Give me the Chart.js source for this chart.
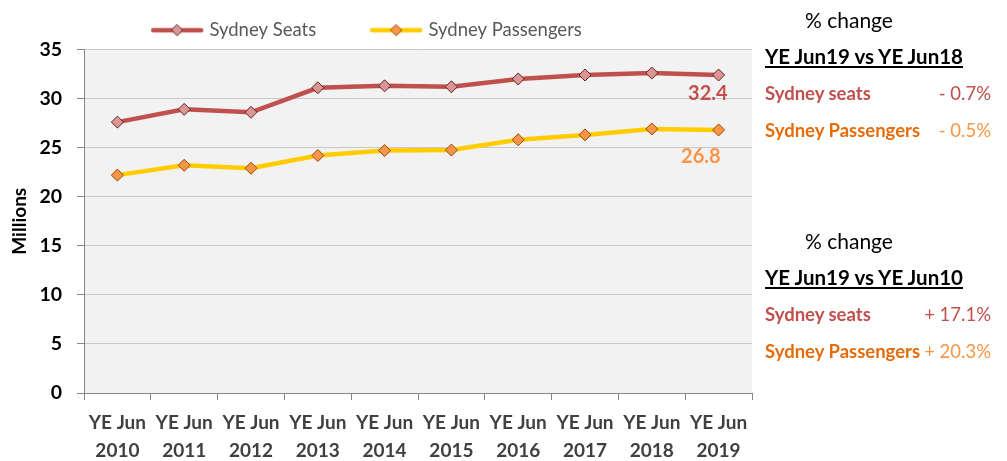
<!DOCTYPE html>
<html>
<head>
<meta charset="utf-8">
<script src="https://cdn.jsdelivr.net/npm/chart.js@4.4.1/dist/chart.umd.min.js"></script>
<style>
  body { margin: 0; background: #fff; font-family: Lato, "Open Sans", sans-serif; }
  #wrap { position: absolute; left: 0; top: 0; width: 1007px; height: 461px; }
  .side { position: absolute; white-space: nowrap; line-height: 26px; height: 26px; }
  .pc { font-size: 21px; color: #000; }
  .hd { font-size: 20.5px; font-weight: bold; color: #000; text-decoration: underline; }
  .row { font-size: 18.5px; }
  .row b { position: absolute; left: 0; }
  .row span { position: absolute; right: 0; }
</style>
</head>
<body>
<div id="wrap"><canvas id="c" width="1007" height="461"></canvas></div>
<div id="side"></div>
<script>
// data
const years = ['2010', '2011', '2012', '2013', '2014', '2015', '2016', '2017', '2018', '2019'];
const seats = [27.6, 28.9, 28.6, 31.1, 31.3, 31.2, 32.0, 32.4, 32.6, 32.4];
const passengers = [22.2, 23.2, 22.9, 24.2, 24.7, 24.75, 25.8, 26.3, 26.9, 26.8];
const yTicks = [0, 5, 10, 15, 20, 25, 30, 35];

const changeHeads = ['YE Jun19 vs YE Jun18', 'YE Jun19 vs YE Jun10'];
const seatsChange = ['- 0.7%', '+ 17.1%'];
const paxChange = ['- 0.5%', '+ 20.3%'];

const FONT = 'Lato, "Open Sans", sans-serif';
const SEATS_COL = '#C0504D';
const PAX_COL = '#FFCC00';

// side panel text
const side = document.getElementById('side');
[0, 1].forEach(function(i) {
  const c = i === 0 ? 20 : 241;   // centre of the "% change" line
  side.insertAdjacentHTML('beforeend',
    '<div class="side pc" style="left:805px;top:' + (c - 13) + 'px">% change</div>' +
    '<div class="side hd" style="left:765px;top:' + (c + 23) + 'px">' + changeHeads[i] + '</div>' +
    '<div class="side row" style="left:765px;width:226px;top:' + (c + 60) + 'px">' +
      '<b style="color:#C0504D">Sydney seats</b><span style="color:#C0504D">' + seatsChange[i] + '</span></div>' +
    '<div class="side row" style="left:765px;width:226px;top:' + (c + 97) + 'px">' +
      '<b style="color:#E46C0A">Sydney Passengers</b><span style="color:#F79646">' + paxChange[i] + '</span></div>');
});

// legend symbol: short line with a diamond, padded on the left so items sit apart
const SYM_BOX = 86;
function legendSymbol(lineCol, fill, stroke) {
  const cv = document.createElement('canvas');
  cv.width = SYM_BOX + 12; cv.height = 16;
  const g = cv.getContext('2d');
  const x0 = cv.width - 55, x1 = cv.width - 3, mid = (x0 + x1) / 2;
  g.strokeStyle = lineCol; g.lineWidth = 4.5; g.lineCap = 'round';
  g.beginPath(); g.moveTo(x0 + 2, 8); g.lineTo(x1 - 2, 8); g.stroke();
  g.fillStyle = fill; g.strokeStyle = stroke; g.lineWidth = 1;
  g.beginPath(); g.moveTo(mid, 2.5); g.lineTo(mid + 5.5, 8); g.lineTo(mid, 13.5); g.lineTo(mid - 5.5, 8); g.closePath();
  g.fill(); g.stroke();
  return cv;
}
const legendImgs = [
  legendSymbol(SEATS_COL, '#D99694', '#632523'),
  legendSymbol(PAX_COL, '#F79646', '#984807')
];

const plotBg = {
  id: 'plotBg',
  beforeDraw(chart) {
    const a = chart.chartArea, ctx = chart.ctx;
    ctx.save(); ctx.fillStyle = '#F2F2F2';
    ctx.fillRect(a.left, a.top, a.right - a.left, a.bottom - a.top);
    ctx.restore();
  }
};

const endLabels = {
  id: 'endLabels',
  afterDatasetsDraw(chart) {
    const ctx = chart.ctx;
    const cols = [SEATS_COL, '#F79646'];
    const offs = [[9, 19], [2, 27]];
    ctx.save();
    ctx.font = 'bold 20px ' + FONT;
    ctx.textAlign = 'right';
    ctx.textBaseline = 'middle';
    chart.data.datasets.forEach(function(ds, i) {
      const pts = chart.getDatasetMeta(i).data;
      const p = pts[pts.length - 1];
      ctx.fillStyle = cols[i];
      ctx.fillText(ds.data[ds.data.length - 1].toFixed(1), p.x + offs[i][0], p.y + offs[i][1]);
    });
    ctx.restore();
  }
};

const legendShift = {
  id: 'legendShift',
  afterLayout(chart) {
    if (chart.legend) { chart.legend.left -= 30; chart.legend.right -= 30; }
  }
};

new Chart(document.getElementById('c'), {
  type: 'line',
  data: {
    labels: years.map(function(y) { return ['YE Jun', y]; }),
    datasets: [
      {
        label: 'Sydney Seats',
        data: seats,
        borderColor: SEATS_COL,
        borderWidth: 4.5,
        pointStyle: 'rectRot',
        pointRadius: 6,
        pointBackgroundColor: '#D99694',
        pointBorderColor: '#632523',
        pointBorderWidth: 1,
        tension: 0
      },
      {
        label: 'Sydney Passengers',
        data: passengers,
        borderColor: PAX_COL,
        borderWidth: 4.5,
        pointStyle: 'rectRot',
        pointRadius: 6,
        pointBackgroundColor: '#F79646',
        pointBorderColor: '#984807',
        pointBorderWidth: 1,
        tension: 0
      }
    ]
  },
  options: {
    responsive: false,
    animation: false,
    layout: { padding: { left: 4, right: 255, top: 4, bottom: 0 } },
    plugins: {
      tooltip: { enabled: false },
      legend: {
        position: 'top',
        labels: {
          usePointStyle: true,
          pointStyleWidth: SYM_BOX,
          padding: 17,
          color: '#595959',
          font: { family: FONT, size: 18.5 },
          generateLabels(chart) {
            const items = Chart.defaults.plugins.legend.labels.generateLabels(chart);
            items.forEach(function(it, i) { it.pointStyle = legendImgs[i]; });
            return items;
          }
        }
      }
    },
    scales: {
      x: {
        offset: true,
        afterFit(axis) { axis.height = 68; },
        grid: { offset: true, drawOnChartArea: false, color: '#868686', tickLength: 7 },
        border: { color: '#868686' },
        ticks: {
          color: '#404040', autoSkip: false, maxRotation: 0, padding: 8,
          font: { family: FONT, size: 19, weight: 'bold', lineHeight: 1.52 }
        }
      },
      y: {
        min: 0,
        max: 35,
        afterBuildTicks(axis) { axis.ticks = yTicks.map(function(v) { return { value: v }; }); },
        afterFit(axis) { axis.width = 80; },
        grid: { color: '#C8C8C8', borderDash: [5, 4], tickBorderDash: [], tickColor: '#868686', tickLength: 7 },
        border: { color: '#868686' },
        ticks: { color: '#000', font: { family: FONT, size: 19.5, weight: 'bold' }, padding: 15 },
        title: { display: true, text: 'Millions', color: '#000', font: { family: FONT, size: 19, weight: 'bold' } }
      }
    }
  },
  plugins: [plotBg, endLabels, legendShift]
});
</script>
</body>
</html>
